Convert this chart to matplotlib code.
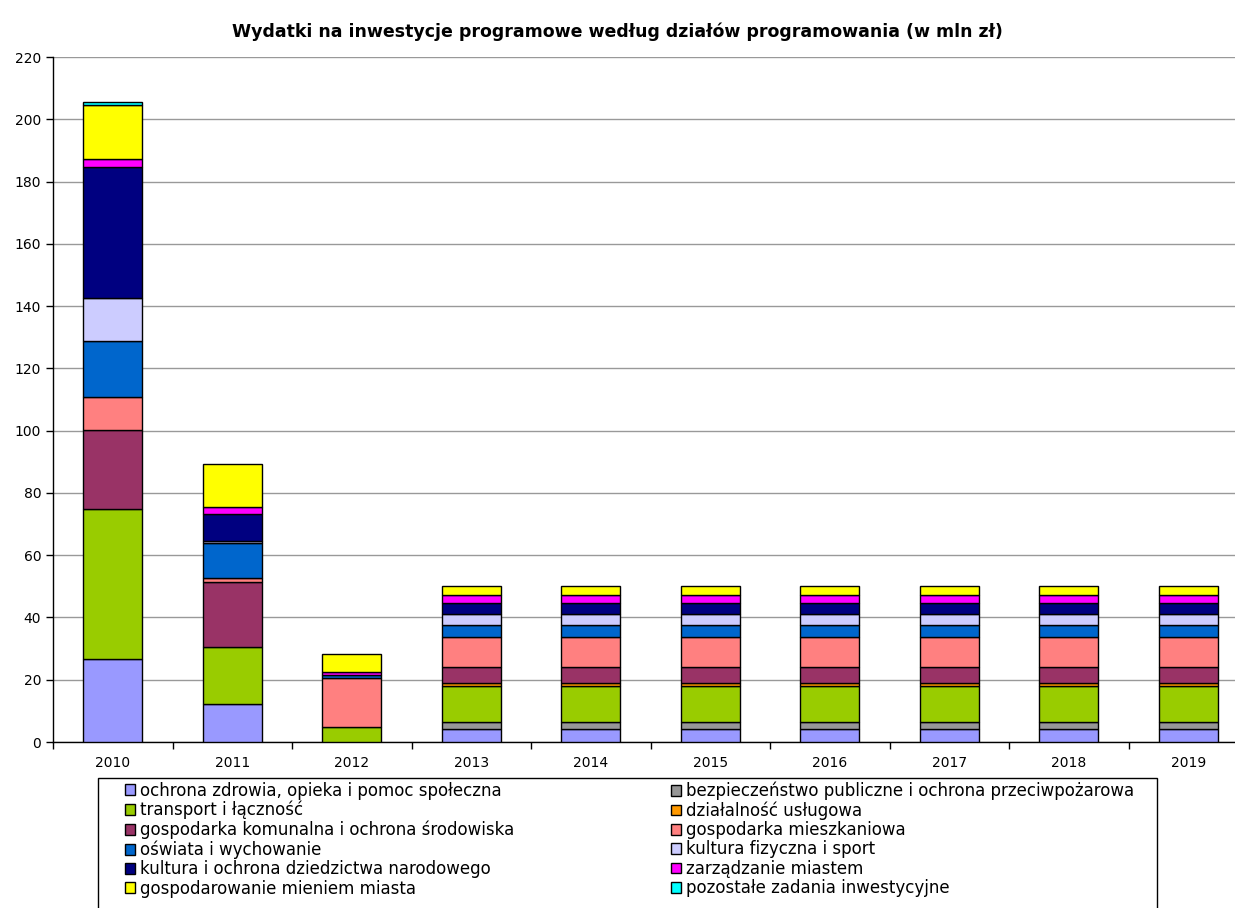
import matplotlib
matplotlib.use("Agg")
import matplotlib.pyplot as plt
import numpy as np
from matplotlib.patches import Patch, Rectangle

years = ["2010", "2011", "2012", "2013", "2014", "2015", "2016", "2017", "2018", "2019"]

labels = [
    "ochrona zdrowia, opieka i pomoc społeczna",
    "bezpieczeństwo publiczne i ochrona przeciwpożarowa",
    "transport i łączność",
    "działalność usługowa",
    "gospodarka komunalna i ochrona środowiska",
    "gospodarka mieszkaniowa",
    "oświata i wychowanie",
    "kultura fizyczna i sport",
    "kultura i ochrona dziedzictwa narodowego",
    "zarządzanie miastem",
    "gospodarowanie mieniem miasta",
    "pozostałe zadania inwestycyjne",
]

colors = ["#9999FF", "#969696", "#99CC00", "#FF9900", "#993366", "#FF8080",
          "#0066CC", "#CCCCFF", "#000080", "#FF00FF", "#FFFF00", "#00FFFF"]

ochrona_zdrowia = [26.8, 12.2, 0.0, 4.3, 4.3, 4.3, 4.3, 4.3, 4.3, 4.3]
bezpieczenstwo = [0.0, 0.0, 0.0, 2.0, 2.0, 2.0, 2.0, 2.0, 2.0, 2.0]
transport = [48.0, 18.4, 4.7, 11.7, 11.7, 11.7, 11.7, 11.7, 11.7, 11.7]
dzialalnosc_uslugowa = [0.0, 0.0, 0.0, 0.8, 0.8, 0.8, 0.8, 0.8, 0.8, 0.8]
gosp_komunalna = [25.4, 20.9, 0.0, 5.4, 5.4, 5.4, 5.4, 5.4, 5.4, 5.4]
gosp_mieszkaniowa = [10.7, 1.3, 15.9, 9.4, 9.4, 9.4, 9.4, 9.4, 9.4, 9.4]
oswiata = [17.8, 11.0, 0.9, 4.0, 4.0, 4.0, 4.0, 4.0, 4.0, 4.0]
kultura_fizyczna = [13.9, 0.8, 0.0, 3.5, 3.5, 3.5, 3.5, 3.5, 3.5, 3.5]
kultura = [42.1, 8.5, 0.0, 3.6, 3.6, 3.6, 3.6, 3.6, 3.6, 3.6]
zarzadzanie = [2.7, 2.3, 0.9, 2.5, 2.5, 2.5, 2.5, 2.5, 2.5, 2.5]
gospodarowanie = [17.3, 13.9, 5.9, 3.0, 3.0, 3.0, 3.0, 3.0, 3.0, 3.0]
pozostale = [1.0, 0.0, 0.0, 0.0, 0.0, 0.0, 0.0, 0.0, 0.0, 0.0]

series = [ochrona_zdrowia, bezpieczenstwo, transport, dzialalnosc_uslugowa,
          gosp_komunalna, gosp_mieszkaniowa, oswiata, kultura_fizyczna,
          kultura, zarzadzanie, gospodarowanie, pozostale]

plt.rcParams['font.family'] = ['DejaVu Sans']

W, H = 1235, 908
fig = plt.figure(figsize=(W / 100, H / 100), dpi=100)
ax = fig.add_axes([53 / W, 1 - 742 / H, (1248 - 53) / W, (742 - 57) / H])

x = np.arange(len(years))
bottom = np.zeros(len(years))
for vals, col, lab in zip(series, colors, labels):
    v = np.array(vals)
    mask = v > 0
    ax.bar(x[mask], v[mask], 0.49, bottom=bottom[mask], color=col,
           edgecolor="black", linewidth=1.0, label=lab, zorder=3)
    bottom += v

ax.set_xlim(-0.5, len(years) - 0.5)
ax.set_ylim(0, 220)
ax.set_yticks(np.arange(0, 221, 20))
ax.yaxis.grid(True, color="#999999", linewidth=1.0, zorder=0)
ax.set_xticks(x)
ax.set_xticklabels(years)
ax.tick_params(axis="x", length=0, labelsize=10, pad=10)
ax.set_xticks(np.arange(-0.5, len(years), 1), minor=True)
ax.tick_params(axis="x", which="minor", length=5, width=1, direction="out")
ax.tick_params(axis="y", length=5, width=1, labelsize=10, direction="out")
for s in ["top", "right"]:
    ax.spines[s].set_visible(False)
ax.spines["left"].set_linewidth(1.0)
ax.spines["bottom"].set_linewidth(1.0)

fig.text(0.5, 1 - 32 / H, "Wydatki na inwestycje programowe według działów programowania (w mln zł)",
         ha="center", va="center", fontsize=12.5, fontweight="bold")

# legend frame (extends beyond bottom edge, as in the reference)
fig.patches.append(Rectangle((98 / W, -0.05), (1157 - 98) / W, (H - 778) / H + 0.05,
                             transform=fig.transFigure, facecolor="white",
                             edgecolor="black", linewidth=1.0, zorder=1))

handles = [Patch(facecolor=c, edgecolor="black", linewidth=1.0) for c in colors]
common = dict(loc="upper left", fontsize=12, frameon=False,
              labelspacing=0.08, handlelength=0.62, handleheight=0.62,
              handletextpad=0.25, borderpad=0, borderaxespad=0)
col1 = [0, 2, 4, 6, 8, 10]
col2 = [1, 3, 5, 7, 9, 11]
fig.legend([handles[i] for i in col1], [labels[i] for i in col1],
           bbox_to_anchor=(125 / W, 1 - 781.5 / H), **common)
fig.legend([handles[i] for i in col2], [labels[i] for i in col2],
           bbox_to_anchor=(671 / W, 1 - 781.5 / H), **common)

fig.savefig("out.png", dpi=100)
